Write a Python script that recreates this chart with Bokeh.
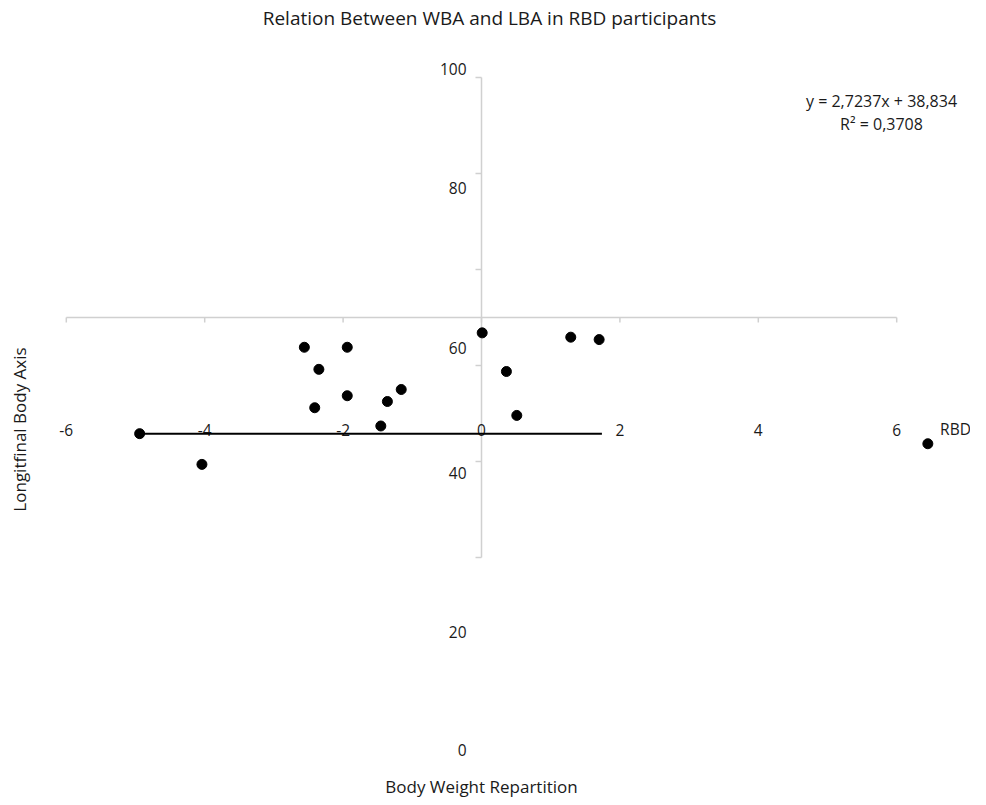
import math
from bokeh.plotting import figure
from bokeh.models import Range1d, Label
from bokeh.core.properties import value
from bokeh.embed import file_html
from bokeh.resources import INLINE

# ---- data ----
rbd = [-4.94, -4.04, -2.56, -1.94, -2.35, -1.94, -2.41, -1.16, -1.36, -1.455,
       0.01, 0.36, 0.51, 1.29, 1.70, 6.45]
lba = [25.8, 19.4, 43.8, 43.8, 39.2, 33.7, 31.2, 35.0, 32.5, 27.4,
       46.8, 38.75, 29.6, 45.9, 45.4, 23.7]

trend_x = [-4.94, 1.74]
trend_y = [25.8, 25.8]

x_ticks = [-6, -4, -2, 0, 2, 4, 6]
x_tick_labels = ["-6", "-4", "-2", "0", "2", "4", "6"]
y_ticks = [0, 20, 40, 60, 80, 100]
y_tick_labels = ["0", "20", "40", "60", "80", "100"]

x_axis_cross = 50      # horizontal axis crosses the vertical one at y = 50
y_axis_cross = 0       # vertical axis at x = 0

title_text = "Relation Between WBA and LBA in RBD participants"
x_title = "Body Weight Repartition"
y_title = "Longitfinal Body Axis"
x_unit_label = "RBD"
eq_line1 = "y = 2,7237x + 38,834"
eq_line2 = "R\u00b2 = 0,3708"

# ---- layout ----
W, H = 970, 797
FONT = "Open Sans"
GRAY = "#d0d0d0"
TXT = "#1a1a1a"

xpu = 69.2   # px per x unit
ypu = 4.8    # px per y unit
X0, Y0 = 481, 557   # pixel position of data (0, 0)

p = figure(width=W, height=H, output_backend="svg", toolbar_location=None,
           x_axis_type=None, y_axis_type=None, title=None, min_border=0,
           x_range=Range1d(-X0 / xpu, (W - X0) / xpu),
           y_range=Range1d((Y0 - H) / ypu, Y0 / ypu))
p.outline_line_color = None
p.background_fill_color = "white"
p.border_fill_color = "white"

# horizontal (x) axis line and ticks
p.segment(x0=[min(x_ticks)], y0=[x_axis_cross], x1=[max(x_ticks)], y1=[x_axis_cross],
          line_color=GRAY, line_width=1.5)
p.segment(x0=x_ticks, y0=[x_axis_cross] * len(x_ticks), x1=x_ticks,
          y1=[x_axis_cross - 5 / ypu] * len(x_ticks), line_color=GRAY, line_width=1.5)

# vertical (y) axis line and ticks
p.segment(x0=[y_axis_cross], y0=[min(y_ticks)], x1=[y_axis_cross], y1=[max(y_ticks)],
          line_color=GRAY, line_width=1.5)
p.segment(x0=[y_axis_cross] * len(y_ticks), y0=y_ticks,
          x1=[y_axis_cross - 6 / xpu] * len(y_ticks), y1=y_ticks,
          line_color=GRAY, line_width=1.5)

# x tick labels (placed low, as in the reference)
x_lab_y = [(Y0 - 429) / ypu] * len(x_ticks)
p.text(x=x_ticks, y=x_lab_y, text=x_tick_labels, text_font=value(FONT),
       text_font_size="15.5px", text_color=TXT, text_align="center", text_baseline="middle")
p.text(x=[(955 - X0) / xpu], y=[(Y0 - 428) / ypu], text=[x_unit_label], text_font=value(FONT),
       text_font_size="15.5px", text_color=TXT, text_align="center", text_baseline="middle")

# y tick labels (at their displaced positions, as drawn in the reference)
y_lab_px = [749, 631, 472, 347, 187, 68]
y_lab_pos = [(Y0 - v) / ypu for v in y_lab_px]
p.text(x=[(466 - X0) / xpu] * len(y_ticks), y=y_lab_pos, text=y_tick_labels,
       text_font=value(FONT), text_font_size="15.5px", text_color=TXT,
       text_align="right", text_baseline="middle")

# trend line
p.line(trend_x, trend_y, line_color="black", line_width=2)

# points
p.scatter(rbd, lba, size=10, marker="circle", fill_color="black", line_color="black")

def sy(ref_y):
    return H - ref_y

p.add_layout(Label(x=489, y=sy(17), x_units="screen", y_units="screen", text=title_text,
                   text_font=FONT, text_font_size="19px", text_color=TXT,
                   text_align="center", text_baseline="middle"))
p.add_layout(Label(x=481, y=sy(786), x_units="screen", y_units="screen", text=x_title,
                   text_font=FONT, text_font_size="17px", text_color=TXT,
                   text_align="center", text_baseline="middle"))
p.add_layout(Label(x=19, y=sy(429), x_units="screen", y_units="screen", text=y_title,
                   angle=math.pi / 2, text_font=FONT, text_font_size="17px", text_color=TXT,
                   text_align="center", text_baseline="middle"))
p.add_layout(Label(x=881, y=sy(100.5), x_units="screen", y_units="screen", text=eq_line1,
                   text_font=FONT, text_font_size="16px", text_color=TXT,
                   text_align="center", text_baseline="middle"))
p.add_layout(Label(x=881, y=sy(123), x_units="screen", y_units="screen", text=eq_line2,
                   text_font=FONT, text_font_size="16px", text_color=TXT,
                   text_align="center", text_baseline="middle"))

open("out.html", "w").write(file_html(p, INLINE))
